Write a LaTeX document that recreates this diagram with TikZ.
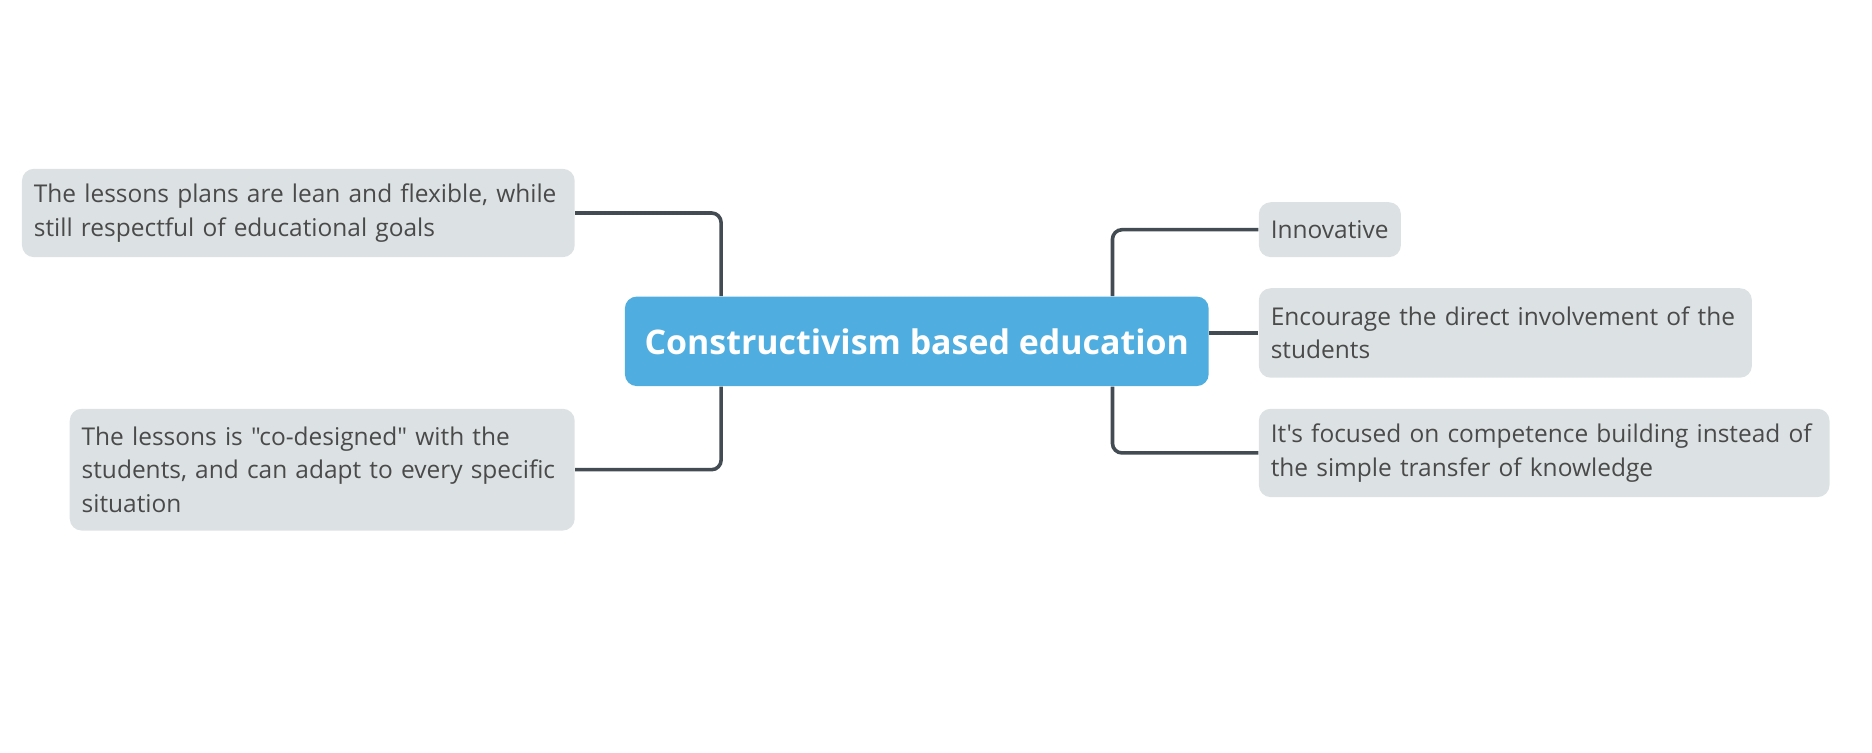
\documentclass[tikz,border=0pt]{standalone}
\usepackage{fontspec}
\setmainfont{Open Sans}[Ligatures={TeXOff,CommonOff}]
\definecolor{mainblue}{HTML}{4FAEDF}
\definecolor{boxgray}{HTML}{DCE2E3}
\definecolor{linegray}{HTML}{434B53}
\definecolor{txtgray}{HTML}{4A4A4A}
\begin{document}
\begin{tikzpicture}[x=0.5pt,y=-0.5pt,
  topic/.style={draw=none,fill=boxgray,rounded corners=5pt,anchor=north west,
    align=left,inner xsep=5pt,inner ysep=0pt,text=txtgray,
    font=\fontsize{10.25}{14}\selectfont},
  central/.style={draw=none,fill=mainblue,rounded corners=5pt,anchor=north west,
    text=white,inner sep=0pt,font=\fontsize{14.2}{18}\selectfont\bfseries},
  conn/.style={draw=linegray,line width=1.5pt,rounded corners=4pt}]
\useasboundingbox (0,0) rectangle (1568,630);
\node[central,minimum width=244.5pt,minimum height=37.5pt] (c) at (523,248) {Constructivism based education};
\node[topic,text width=221.5pt,minimum height=37pt] (lt) at (18,141) {The lessons plans are lean and flexible, while\\still respectful of educational goals};
\node[topic,text width=201.5pt,minimum height=51pt] (lb) at (58,342) {The lessons is "co-designed" with the\\students, and can adapt to every specific\\situation};
\node[topic,text width=49.5pt,minimum height=23pt] (in) at (1054,169) {Innovative};
\node[topic,text width=196.5pt,minimum height=37.5pt] (en) at (1054,241) {Encourage the direct involvement of the\\students};
\node[topic,text width=229pt,minimum height=37pt] (it) at (1054,342) {It's focused on competence building instead of\\the simple transfer of knowledge};
\coordinate (cl) at ([xshift=40.5pt]c.north west);
\coordinate (clb) at ([xshift=40.5pt]c.south west);
\coordinate (cr) at ([xshift=-40.5pt]c.north east);
\coordinate (crb) at ([xshift=-40.5pt]c.south east);
\draw[conn] (lt.east) -| (cl);
\draw[conn] (clb) |- (lb.east);
\draw[conn] (in.west) -| (cr);
\draw[conn] (crb) |- (it.west);
\draw[conn] (en.west -| c.east) -- (en.west);
\end{tikzpicture}
\end{document}
